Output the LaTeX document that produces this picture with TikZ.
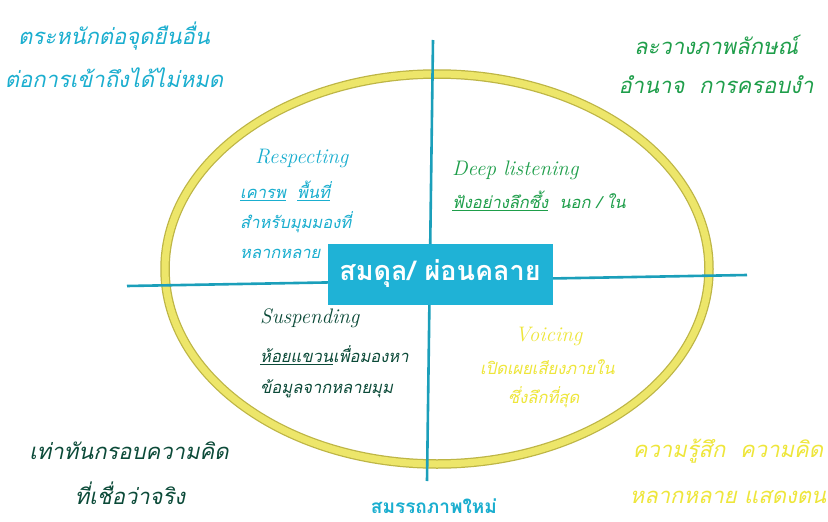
\documentclass[tikz,border=0pt]{standalone}
\usepackage{fontspec}
\newfontfamily\thaifont[Script=Thai]{Loma}
\definecolor{cyanT}{HTML}{1AAECF}
\definecolor{greenT}{HTML}{1E9E4A}
\definecolor{darkT}{HTML}{0B4A38}
\definecolor{yellowT}{HTML}{EEE63A}
\definecolor{ringY}{HTML}{EDE66A}
\definecolor{ringE}{HTML}{BDB545}
\definecolor{axisC}{HTML}{1B9FBA}
\definecolor{boxC}{HTML}{1FB2D6}
\tikzset{
  thai/.style={font=\thaifont\itshape\fontsize{22}{26}\selectfont, inner sep=0pt},
  small/.style={font=\thaifont\itshape\fontsize{16.5}{19}\selectfont, inner sep=0pt, anchor=west},
  eng/.style={font=\itshape\fontsize{21}{24}\selectfont, inner sep=0pt, anchor=west},
  axis/.style={draw=axisC, line width=2.6pt},
  centerbox/.style={fill=boxC, minimum width=225pt, minimum height=61pt, inner sep=0pt, text=white,
     font=\thaifont\bfseries\fontsize{27}{30}\selectfont}
}
\begin{document}
\begin{tikzpicture}[x=1pt,y=-1pt]
\useasboundingbox (0,0) rectangle (828,522);
\fill[white] (0,0) rectangle (828,522);
% ring
\draw[ringE, line width=9.5pt] (437,269) ellipse [x radius=272, y radius=195];
\draw[ringY, line width=7pt] (437,269) ellipse [x radius=272, y radius=195];
% axes
\coordinate (top) at (433,40);
\coordinate (bot) at (427,481);
\coordinate (lft) at (127,286);
\coordinate (rgt) at (747,275);
\draw[axis] (top) -- (bot);
\draw[axis] (lft) -- (rgt);
% center box
\node[centerbox] (center) at (440,274) {สมดุล/ ผ่อนคลาย};
% corner texts
\node[thai, text=cyanT] (tl1) at (114,36) {ตระหนักต่อจุดยืนอื่น};
\node[thai, text=cyanT] (tl2) at (114,78) {ต่อการเข้าถึงได้ไม่หมด};
\node[thai, text=greenT] (tr1) at (716,45) {ละวางภาพลักษณ์};
\node[thai, text=greenT] (tr2) at (716,85) {อำนาจ~~การครอบงำ};
\node[thai, text=darkT] (bl1) at (129,451) {เท่าทันกรอบความคิด};
\node[thai, text=darkT] (bl2) at (130,493) {ที่เชื่อว่าจริง};
\node[thai, text=yellowT] (br1) at (728,451) {ความรู้สึก~~ความคิด};
\node[thai, text=yellowT] (br2) at (728,497) {หลากหลาย แสดงตน};
\node[font=\thaifont\bfseries\fontsize{19}{22}\selectfont, text=cyanT, inner sep=0pt] (newcap) at (434,506) {สมรรถภาพใหม่};
% Respecting
\node[eng, text=cyanT] (resp) at (255,158) {Respecting};
\node[small, text=cyanT] (resp1) at (240,191) {\underline{เคารพ}~~\underline{พื้นที่}};
\node[small, text=cyanT] (resp2) at (240,222) {สำหรับมุมมองที่};
\node[small, text=cyanT] (resp3) at (240,254) {หลากหลาย};
% Deep listening
\node[eng, text=greenT] (deep) at (452,170) {Deep listening};
\node[small, text=greenT] (deep1) at (452,201) {\underline{ฟังอย่างลึกซึ้ง}~~นอก / ใน};
% Suspending
\node[eng, text=darkT] (susp) at (260,318) {Suspending};
\node[small, text=darkT] (susp1) at (260,355) {\underline{ห้อยแขวน}เพื่อมองหา};
\node[small, text=darkT] (susp2) at (260,389) {ข้อมูลจากหลายมุม};
% Voicing
\node[eng, text=yellowT] (voic) at (515,336) {Voicing};
\node[small, text=yellowT] (voic1) at (480,367) {เปิดเผยเสียงภายใน};
\node[small, text=yellowT] (voic2) at (508,397) {ซึ่งลึกที่สุด};
\end{tikzpicture}
\end{document}
